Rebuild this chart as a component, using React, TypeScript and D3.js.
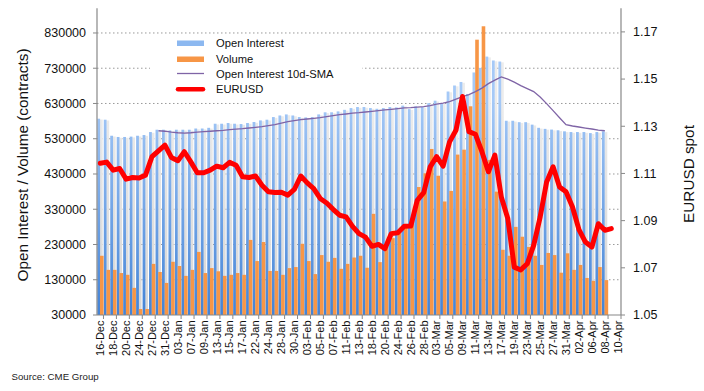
import React from "react";
import * as d3 from "d3";

const categories = [
  "16-Dec","17-Dec","18-Dec","19-Dec","20-Dec","23-Dec","24-Dec","26-Dec","27-Dec","30-Dec",
  "31-Dec","02-Jan","03-Jan","06-Jan","07-Jan","08-Jan","09-Jan","10-Jan","13-Jan","14-Jan",
  "15-Jan","16-Jan","17-Jan","21-Jan","22-Jan","23-Jan","24-Jan","27-Jan","28-Jan","29-Jan",
  "30-Jan","31-Jan","03-Feb","04-Feb","05-Feb","06-Feb","07-Feb","10-Feb","11-Feb","12-Feb",
  "13-Feb","14-Feb","18-Feb","19-Feb","20-Feb","21-Feb","24-Feb","25-Feb","26-Feb","27-Feb",
  "28-Feb","02-Mar","03-Mar","04-Mar","05-Mar","06-Mar","09-Mar","10-Mar","11-Mar","12-Mar",
  "13-Mar","16-Mar","17-Mar","18-Mar","19-Mar","20-Mar","23-Mar","24-Mar","25-Mar","26-Mar",
  "27-Mar","30-Mar","31-Mar","01-Apr","02-Apr","03-Apr","06-Apr","07-Apr","08-Apr","09-Apr",
  "10-Apr",
];

const openInterest = [
  586800, 584000, 538500, 535000, 535000, 536000, 538500, 540500, 549000, 555600,
  555600, 553600, 555600, 555600, 555600, 559000, 559000, 561000, 572600, 572600,
  574600, 572600, 571700, 574600, 577500, 582000, 584000, 591500, 596000, 599000,
  596000, 591500, 590500, 591500, 599000, 605000, 605000, 607600, 612000, 617000,
  620000, 620000, 617000, 615000, 617000, 620000, 619000, 624000, 614000, 622000,
  620000, 631000, 638000, 631000, 664000, 681000, 691000, 657000, 718000, 731000,
  763000, 752000, 749000, 581000, 581000, 577000, 577000, 570000, 561000, 558000,
  556000, 554000, 551000, 549000, 549000, 549000, 546000, 549000, 551000,
];

const volume = [
  198000, 158000, 158000, 149000, 144000, 107000, 47000, 47000, 175000, 152000,
  121000, 181000, 169000, 141000, 158000, 209000, 149000, 163000, 154000, 141000,
  144000, 149000, 144000, 243000, 183000, 237000, 155000, 155000, 144000, 163000,
  166000, 232000, 183000, 146000, 200000, 181000, 192000, 161000, 175000, 193000,
  198000, 164000, 317000, 180000, 224000, 248000, 262000, 281000, 305000, 393000,
  432000, 501000, 425000, 352000, 382000, 485000, 499000, 622000, 811000, 849000,
  470000, 380000, 215000, 198000, 280000, 252000, 223000, 198000, 172000, 206000,
  200000, 150000, 205000, 158000, 172000, 135000, 127000, 166000, 129000,
];

const oiSma10 = [
  null, null, null, null, null, null, null, null, null, 552700,
  551300, 548500, 547000, 546200, 547000, 548500, 550000, 551300, 552700, 553600,
  555600, 557500, 558400, 560400, 562100, 564100, 566900, 569800, 574000, 578300,
  581100, 584000, 586000, 587700, 589700, 592500, 595400, 598200, 600200, 602500,
  603900, 605900, 607600, 609600, 611600, 613300, 615300, 617300, 618200, 619600,
  621000, 623900, 628100, 631000, 635300, 642400, 649500, 655200, 663700, 673600,
  686400, 696400, 705500, 699200, 690700, 680800, 672300, 663700, 648100, 629600,
  609600, 589700, 569800, 566100, 563300, 560400, 557600, 554700, 552700,
];

const eurusd = [
  1.1143, 1.1148, 1.1114, 1.1121, 1.1076, 1.1083, 1.1081, 1.1093, 1.1171, 1.1196,
  1.1220, 1.1168, 1.1154, 1.1192, 1.1149, 1.1103, 1.1103, 1.1114, 1.1131, 1.1124,
  1.1147, 1.1135, 1.1086, 1.1083, 1.1089, 1.1050, 1.1022, 1.1019, 1.1020, 1.1008,
  1.1032, 1.1089, 1.1060, 1.1036, 1.0994, 1.0975, 1.0948, 1.0923, 1.0916, 1.0876,
  1.0845, 1.0830, 1.0791, 1.0799, 1.0781, 1.0845, 1.0849, 1.0876, 1.0877, 1.0986,
  1.1019, 1.1128, 1.1171, 1.1131, 1.1234, 1.1284, 1.1426, 1.1277, 1.1266, 1.1192,
  1.1107, 1.1178, 1.1000, 1.0909, 1.0703, 1.0691, 1.0717, 1.0795, 1.0915, 1.1064,
  1.1128, 1.1043, 1.1022, 1.0958, 1.0862, 1.0809, 1.0788, 1.0887, 1.0859, 1.0866,
];

const leftTicks = [30000, 130000, 230000, 330000, 430000, 530000, 630000, 730000, 830000];
const rightTicks = [1.05, 1.07, 1.09, 1.11, 1.13, 1.15, 1.17];
const legendLabels = ["Open Interest", "Volume", "Open Interest 10d-SMA", "EURUSD"];

const FONT = "'Liberation Sans', Arial, sans-serif";

export default function App() {
  const left = 97, right = 621, top = 8.3, bottom = 315;
  const x = d3.scaleBand<string>().domain(categories).range([left, right]).padding(0);
  const bw = x.bandwidth();
  const yL = d3.scaleLinear().domain([30000, 900000]).range([bottom, top]);
  const yR = d3.scaleLinear().domain([1.05, 1.18]).range([bottom, top]);
  const cx = (i: number) => (x(categories[i]) as number) + bw / 2;

  const smaLine = d3
    .line<number | null>()
    .defined((d) => d !== null)
    .x((_, i) => cx(i))
    .y((d) => yL(d as number));
  const fxLine = d3
    .line<number>()
    .x((_, i) => cx(i))
    .y((d) => yR(d));

  const axisColor = "#888888";

  return (
    <svg
      width={704}
      height={391}
      style={{ position: "absolute", left: 0, top: 0, background: "#fff" }}
      fontFamily={FONT}
    >
      <defs>
        <linearGradient id="oiGrad" gradientUnits="userSpaceOnUse" x1="0" y1="100" x2="0" y2={bottom}>
          <stop offset="0" stopColor="#a5c9f7" />
          <stop offset="1" stopColor="#4383d6" />
        </linearGradient>
        <linearGradient id="shGrad" gradientUnits="userSpaceOnUse" x1="0" y1="100" x2="0" y2={bottom}>
          <stop offset="0" stopColor="#ececec" />
          <stop offset="1" stopColor="#d6d6d6" />
        </linearGradient>
      </defs>

      {/* gridlines */}
      {leftTicks.slice(1).map((t) => (
        <line
          key={"g" + t}
          x1={left}
          x2={right}
          y1={yL(t)}
          y2={yL(t)}
          stroke="#9a9a9a"
          strokeWidth={1}
          strokeDasharray="1.5 2.5"
        />
      ))}

      {/* OI shadow + bars */}
      {openInterest.map((v, i) => {
        const x0 = x(categories[i]) as number;
        return (
          <g key={"oi" + i}>
            <rect x={x0 + 2.9} y={yL(v) + 0.8} width={2.8} height={bottom - yL(v) - 0.8} fill="url(#shGrad)" />
            <rect x={x0 + 0.3} y={yL(v)} width={2.8} height={bottom - yL(v)} fill="url(#oiGrad)" />
          </g>
        );
      })}
      {/* Volume bars */}
      {volume.map((v, i) => {
        const x0 = x(categories[i]) as number;
        return (
          <rect key={"v" + i} x={x0 + 3.0} y={yL(v)} width={3.6} height={bottom - yL(v)} fill="#f79646" />
        );
      })}

      {/* SMA line */}
      <path d={smaLine(oiSma10) || ""} fill="none" stroke="#7f64a6" strokeWidth={1.3} />
      {/* EURUSD line */}
      <path
        d={fxLine(eurusd) || ""}
        fill="none"
        stroke="#ff0000"
        strokeWidth={5}
        strokeLinejoin="round"
        strokeLinecap="round"
      />

      {/* axes */}
      <line x1={left} x2={left} y1={top} y2={bottom} stroke={axisColor} strokeWidth={1.2} />
      <line x1={right} x2={right} y1={top} y2={bottom} stroke={axisColor} strokeWidth={1.2} />
      <line x1={left} x2={right} y1={bottom} y2={bottom} stroke={axisColor} strokeWidth={1.2} />

      {leftTicks.map((t) => (
        <g key={"lt" + t}>
          <line x1={left - 4} x2={left} y1={yL(t)} y2={yL(t)} stroke={axisColor} />
          <text x={86} y={yL(t)} dy="0.35em" textAnchor="end" fontSize={12.5} fill="#111">
            {t}
          </text>
        </g>
      ))}
      {rightTicks.map((t) => (
        <g key={"rt" + t}>
          <line x1={right} x2={right + 4} y1={yR(t)} y2={yR(t)} stroke={axisColor} />
          <text x={633} y={yR(t)} dy="0.35em" textAnchor="start" fontSize={12.5} fill="#111">
            {t.toFixed(2)}
          </text>
        </g>
      ))}

      {/* x ticks at odd boundaries */}
      {categories.map((c, i) =>
        i % 2 === 1 || i === categories.length - 1 ? (
          <line
            key={"xt" + i}
            x1={i % 2 === 1 ? (x(c) as number) : right}
            x2={i % 2 === 1 ? (x(c) as number) : right}
            y1={bottom}
            y2={bottom + 4}
            stroke={axisColor}
          />
        ) : null
      )}
      {categories.map((c, i) =>
        i % 2 === 0 ? (
          <text
            key={"xl" + i}
            transform={`translate(${cx(i)},${bottom + 5.5}) rotate(-90)`}
            dy="0.35em"
            textAnchor="end"
            fontSize={11}
            fill="#111"
          >
            {c}
          </text>
        ) : null
      )}

      {/* axis titles */}
      <text
        transform={`translate(23,165) rotate(-90)`}
        dy="0.35em"
        textAnchor="middle"
        fontSize={15.3}
        fill="#111"
      >
        Open Interest / Volume (contracts)
      </text>
      <text
        transform={`translate(689,174) rotate(-90)`}
        dy="0.35em"
        textAnchor="middle"
        fontSize={15.3}
        fill="#111"
      >
        EURUSD spot
      </text>

      {/* legend */}
      <rect x={150} y={36} width={212} height={65} fill="#ffffff" />
      <g>
        <rect x={177} y={40.5} width={27} height={5.5} fill="#8cb8f0" />
        <rect x={177} y={56.5} width={27} height={5.5} fill="#f79646" />
        <line x1={177} x2={204} y1={73.5} y2={73.5} stroke="#7f64a6" strokeWidth={1.3} />
        <line x1={178} x2={203} y1={89.3} y2={89.3} stroke="#ff0000" strokeWidth={4.5} strokeLinecap="round" />
        {legendLabels.map((l, i) => (
          <text key={l} x={216} y={[43.5, 59, 74, 89.5][i]} dy="0.35em" fontSize={11.2} fill="#111">
            {l}
          </text>
        ))}
      </g>

      <text x={11.5} y={380} fontSize={9.7} fill="#222">
        Source: CME Group
      </text>
    </svg>
  );
}
